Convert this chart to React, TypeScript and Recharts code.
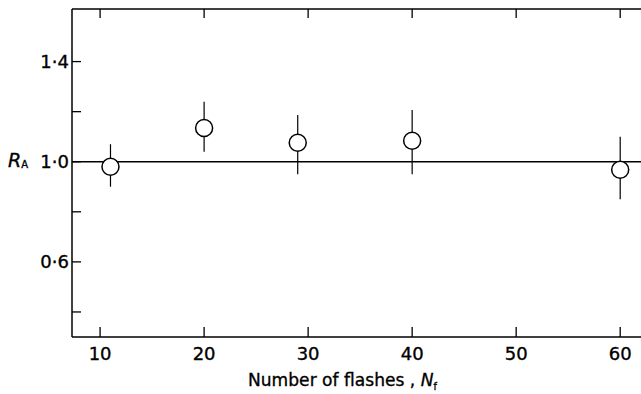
import React from 'react';
import { ComposedChart, ErrorBar, ReferenceLine, Scatter, XAxis, YAxis } from 'recharts';

const xValues = [11, 20, 29, 40, 60];
const raValues = [0.98, 1.135, 1.076, 1.084, 0.968];
const raLower = [0.9, 1.04, 0.95, 0.95, 0.85];
const raUpper = [1.07, 1.24, 1.187, 1.207, 1.1];

const xTicks = [10, 20, 30, 40, 50, 60];
const yTicks = [0.4, 0.6, 0.8, 1.0, 1.2, 1.4];
const yTickLabels: Record<string, string> = { '0.6': '0·6', '1': '1·0', '1.4': '1·4' };

const data = xValues.map((x, i) => ({
  x,
  ra: raValues[i],
  err: [raValues[i] - raLower[i], raUpper[i] - raValues[i]],
}));

const font = 'DejaVu Sans';
const ink = '#000';
// scanned glyphs are a bit heavier than DejaVu regular
const textStyle = { fontFamily: font, fill: ink, stroke: ink, strokeWidth: 0.35 };

const BottomTick = (props: any) => {
  const { x, y, payload } = props;
  return (
    <g>
      <line x1={x} y1={y} x2={x} y2={y - 10} stroke={ink} strokeWidth={1.3} />
      <text x={x} y={y + 23} textAnchor='middle' fontSize={18} {...textStyle}>
        {payload.value}
      </text>
    </g>
  );
};

const TopTick = (props: any) => {
  const { x, y } = props;
  return <line x1={x} y1={y} x2={x} y2={y + 9} stroke={ink} strokeWidth={1.3} />;
};

const LeftTick = (props: any) => {
  const { x, y, payload } = props;
  const label = yTickLabels[String(payload.value)];
  return (
    <g>
      <line x1={x} y1={y} x2={x + 9} y2={y} stroke={ink} strokeWidth={1.3} />
      {label && (
        <text x={x - 3} y={y + 6.5} textAnchor='end' fontSize={18} {...textStyle}>
          {label}
        </text>
      )}
    </g>
  );
};

const RightTick = (props: any) => {
  const { x, y } = props;
  return <line x1={x} y1={y} x2={x - 5} y2={y} stroke={ink} strokeWidth={1.3} />;
};

const XTitle = (props: any) => {
  const { viewBox } = props;
  return (
    <g transform={`translate(${viewBox.x + 176}, ${viewBox.y + 49}) scale(0.95, 1)`}>
      <text x={0} y={0} fontSize={18} {...textStyle}>
        Number of flashes , <tspan fontStyle='italic'>N</tspan>
        <tspan fontSize={10} dy={4}>f</tspan>
      </text>
    </g>
  );
};

const YTitle = (props: any) => {
  const { viewBox } = props;
  return (
    <text x={viewBox.x + 8} y={167} fontSize={19} {...textStyle}>
      <tspan fontStyle='italic'>R</tspan>
      <tspan fontSize={10} dy={1}>A</tspan>
    </text>
  );
};

const circle = (props: any) => (
  <circle cx={props.cx} cy={props.cy} r={8.5} fill='#fff' stroke={ink} strokeWidth={1.5} />
);

const nothing = () => <g />;

export default function App() {
  return (
    <div style={{ position: 'absolute', left: 0, top: 0 }}>
      <ComposedChart width={641} height={394} data={data} margin={{ top: 0, right: 0, bottom: 0, left: 0 }}>
        <XAxis
          dataKey='x'
          type='number'
          domain={[7.3, 62]}
          ticks={xTicks}
          interval={0}
          allowDataOverflow
          height={57}
          tickSize={0}
          tickMargin={0}
          tickLine={false}
          tick={<BottomTick />}
          axisLine={{ stroke: ink, strokeWidth: 1.5 }}
          label={{ content: XTitle }}
        />
        <XAxis
          xAxisId='top'
          dataKey='x'
          orientation='top'
          type='number'
          domain={[7.3, 62]}
          ticks={xTicks}
          interval={0}
          allowDataOverflow
          height={9}
          tickSize={0}
          tickMargin={0}
          tickLine={false}
          tick={<TopTick />}
          axisLine={{ stroke: ink, strokeWidth: 1.5 }}
        />
        <YAxis
          type='number'
          domain={[0.3, 1.61]}
          ticks={yTicks}
          interval={0}
          allowDataOverflow
          width={72}
          tickSize={0}
          tickMargin={0}
          tickLine={false}
          tick={<LeftTick />}
          axisLine={{ stroke: ink, strokeWidth: 1.5 }}
          label={{ content: YTitle }}
        />
        <YAxis
          yAxisId='right'
          orientation='right'
          type='number'
          domain={[0.3, 1.61]}
          ticks={yTicks}
          interval={0}
          allowDataOverflow
          width={0}
          tickSize={0}
          tickMargin={0}
          tickLine={false}
          tick={<RightTick />}
          axisLine={{ stroke: ink, strokeWidth: 1.5 }}
        />
        <ReferenceLine y={1} stroke={ink} strokeWidth={1.5} />
        <Scatter dataKey='ra' shape={circle} isAnimationActive={false}>
          <ErrorBar dataKey='err' direction='y' width={0} stroke={ink} strokeWidth={1.2} isAnimationActive={false} />
        </Scatter>
        <Scatter dataKey='ra' xAxisId='top' yAxisId='right' shape={nothing} isAnimationActive={false} />
      </ComposedChart>
    </div>
  );
}
